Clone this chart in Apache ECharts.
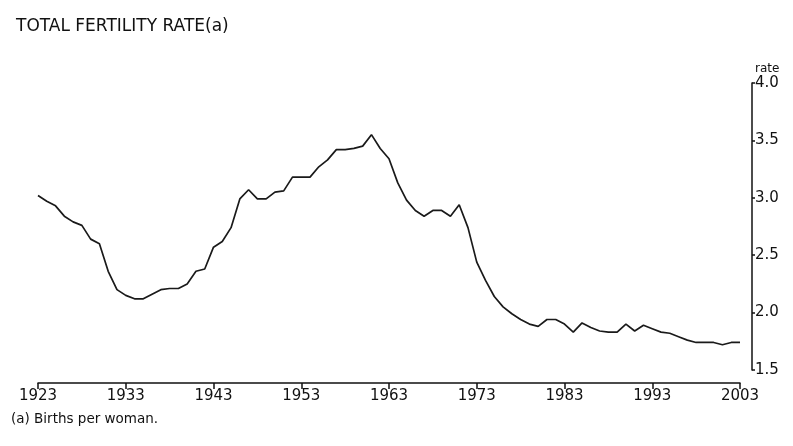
<!DOCTYPE html>
<html>
<head>
<meta charset="utf-8">
<script src="https://cdn.jsdelivr.net/npm/echarts@6/dist/echarts.min.js"></script>
<style>html,body{margin:0;padding:0;background:#fff}#c{width:793px;height:446px}</style>
</head>
<body>
<div id="c"></div>
<script>
const years = [];
for (let y = 1923; y <= 2003; y++) years.push(String(y));
const fertilityRate = [
  3.02, 2.97, 2.93, 2.84, 2.79, 2.76, 2.64, 2.60, 2.36, 2.20,
  2.15, 2.12, 2.12, 2.16, 2.20, 2.21, 2.21, 2.25, 2.36, 2.38,
  2.57, 2.62, 2.74, 2.99, 3.07, 2.99, 2.99, 3.05, 3.06, 3.18,
  3.18, 3.18, 3.27, 3.33, 3.42, 3.42, 3.43, 3.45, 3.55, 3.43,
  3.34, 3.13, 2.98, 2.89, 2.84, 2.89, 2.89, 2.84, 2.94, 2.74,
  2.44, 2.28, 2.14, 2.05, 1.99, 1.94, 1.90, 1.88, 1.94, 1.94,
  1.90, 1.83, 1.91, 1.87, 1.84, 1.83, 1.83, 1.90, 1.84, 1.89,
  1.86, 1.83, 1.82, 1.79, 1.76, 1.74, 1.74, 1.74, 1.72, 1.74,
  1.74
];
const yTicks = { min: 1.5, max: 4.0, step: 0.5 };
const titleText = 'TOTAL FERTILITY RATE(a)';
const footnote = '(a) Births per woman.';
const yName = 'rate';

const font = 'DejaVu Sans';
const chart = echarts.init(document.getElementById('c'), null, { renderer: 'canvas' });
chart.setOption({
  animation: false,
  title: {
    text: titleText, left: 11, top: 13,
    textStyle: { fontFamily: font, fontSize: 17, fontWeight: 'normal', color: '#111' }
  },
  graphic: [{
    type: 'text', left: 11, top: 412,
    style: { text: footnote, font: '13.5px "DejaVu Sans"', fill: '#111' }
  }],
  grid: { left: 38, right: 53, top: 83, bottom: 76 },
  xAxis: {
    type: 'category', data: years, boundaryGap: false, offset: 13,
    axisLine: { lineStyle: { color: '#111', width: 1.5 } },
    axisTick: { interval: 9, length: 6, lineStyle: { color: '#111', width: 1.5 } },
    axisLabel: { interval: 9, margin: 6, color: '#111', fontFamily: font, fontSize: 15 },
    splitLine: { show: false }
  },
  yAxis: {
    type: 'value', position: 'right', offset: 12,
    min: yTicks.min, max: yTicks.max, interval: yTicks.step,
    name: yName, nameLocation: 'end', nameGap: 8,
    nameTextStyle: { color: '#111', fontFamily: font, fontSize: 12, align: 'left', padding: [0, 0, 0, 3] },
    axisLine: { show: true, lineStyle: { color: '#111', width: 1.5 } },
    axisTick: { show: true, length: 3, lineStyle: { color: '#111', width: 1.5 } },
    axisLabel: { margin: 3, color: '#111', fontFamily: font, fontSize: 15,
      formatter: v => v.toFixed(1) },
    splitLine: { show: false }
  },
  series: [{
    type: 'line', data: fertilityRate, symbol: 'none', smooth: false,
    lineStyle: { color: '#1a1a1a', width: 1.7 }
  }]
});
</script>
</body>
</html>
